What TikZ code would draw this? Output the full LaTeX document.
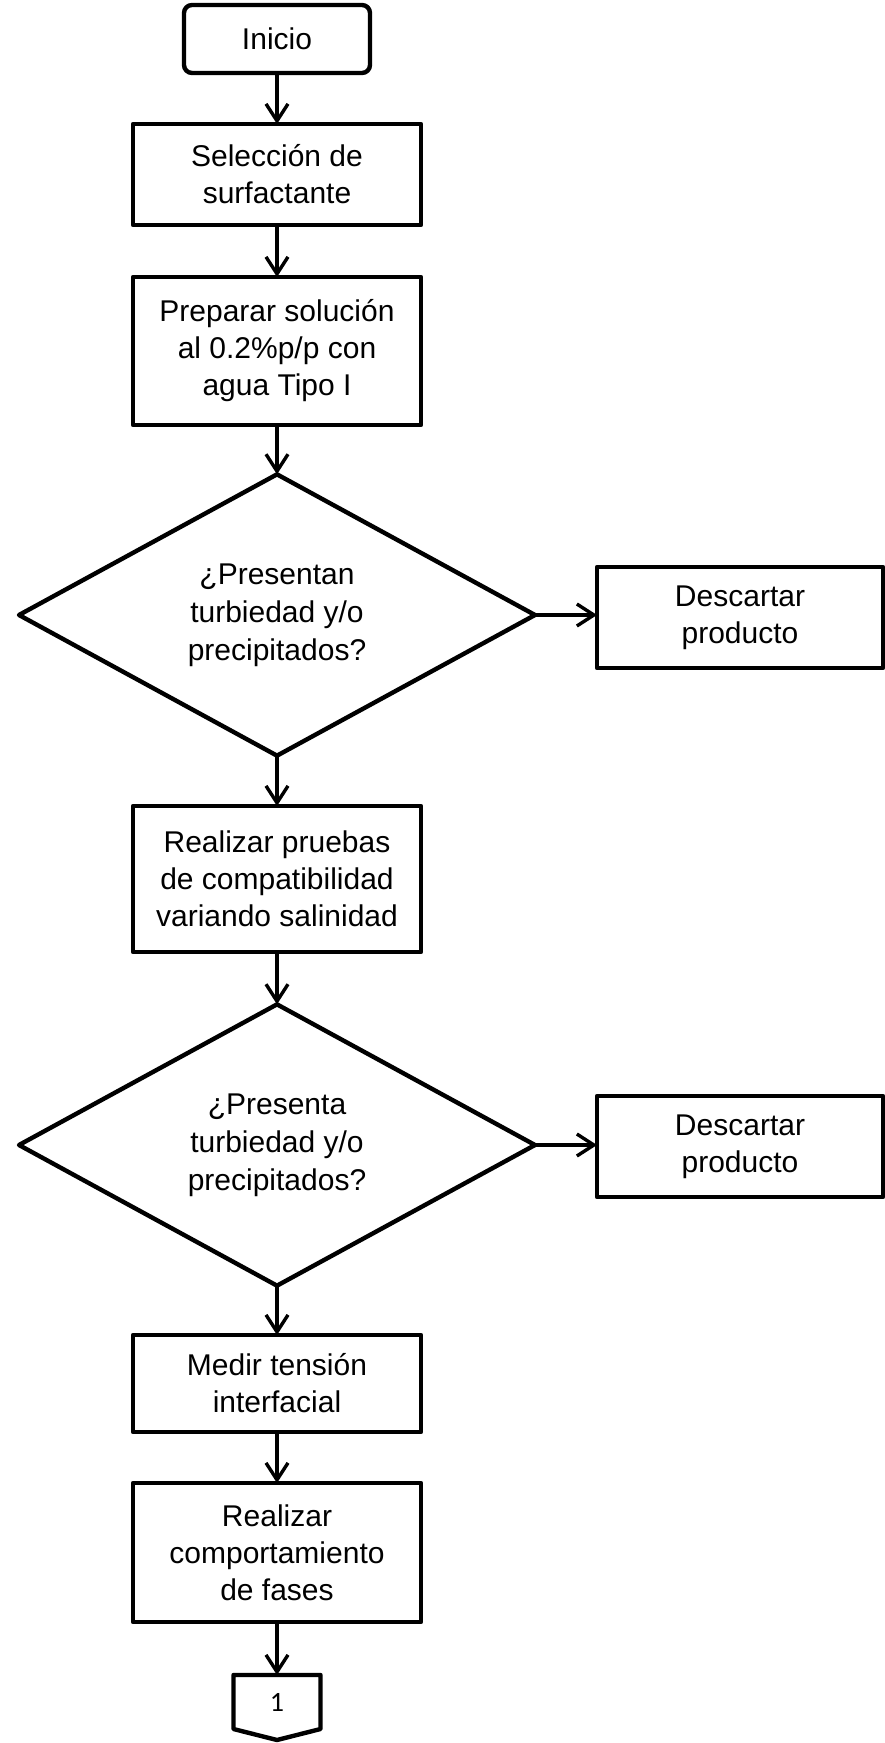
\documentclass[tikz,border=0pt]{standalone}
\usepackage{fontspec}
\setmainfont{Liberation Sans}
\newfontfamily\numfont{Carlito}
\usetikzlibrary{arrows.meta,positioning,calc,shapes.geometric}

\begin{document}
\begin{tikzpicture}[x=0.5pt, y=-0.5pt,
    box/.style={draw, line width=2.2pt, line join=round, align=center, minimum width=144pt, inner sep=0pt, outer sep=0pt, font=\fontsize{15}{18.5}\selectfont},
    term/.style={box, rounded corners=4pt, minimum width=93pt, minimum height=34pt},
    deci/.style={draw, diamond, line width=2.2pt, line join=round, align=center, minimum width=258pt, minimum height=140pt, inner sep=0pt, outer sep=0pt, font=\fontsize{15}{19}\selectfont},
    outbox/.style={box, minimum width=143pt, minimum height=50.5pt},
    arr/.style={-{Straight Barb[length=8.5pt, width=11pt]}, line width=1.7pt}
]
\useasboundingbox (0,0) rectangle (884,1743);
\node[term] (inicio) at (277,39) {Inicio};
\node[box, minimum height=50.5pt] (selec) at (277,174.5) {Selección de\\surfactante};
\node[box, minimum height=74pt] (prep) at (277,351) {Preparar solución\\al 0.2\%p/p con\\agua Tipo I};
\node[deci] (dec1) at (277,615) {¿Presentan\\turbiedad y/o\\precipitados?};
\node[outbox] (desc1) at (740,617.5) {Descartar\\producto};
\node[box, minimum height=73pt] (pruebas) at (277,879) {Realizar pruebas\\de compatibilidad\\variando salinidad};
\node[deci] (dec2) at (277,1145) {¿Presenta\\turbiedad y/o\\precipitados?};
\node[outbox] (desc2) at (740,1146.5) {Descartar\\producto};
\node[box, minimum height=48.5pt] (medir) at (277,1383.5) {Medir tensión\\interfacial};
\node[box, minimum height=69.5pt] (fases) at (277,1552.5) {Realizar\\comportamiento\\de fases};
% conector de pagina
\node[minimum width=43.5pt, minimum height=27pt, inner sep=0pt, outer sep=0pt, font=\numfont\fontsize{14}{16}\selectfont] (con) at (277,1702) {1};
\draw[line width=2.2pt, line join=round] (con.north west) -- (con.north east) -- (con.south east) -- ($(con.south)+(0,11)$) -- (con.south west) -- cycle;
\draw[arr] (inicio) -- (selec);
\draw[arr] (selec) -- (prep);
\draw[arr] (prep) -- (dec1);
\draw[arr] (dec1.east) -- (dec1.east -| desc1.west);
\draw[arr] (dec1) -- (pruebas);
\draw[arr] (pruebas) -- (dec2);
\draw[arr] (dec2.east) -- (dec2.east -| desc2.west);
\draw[arr] (dec2) -- (medir);
\draw[arr] (medir) -- (fases);
\draw[arr] (fases) -- (con.north);
\end{tikzpicture}
\end{document}
